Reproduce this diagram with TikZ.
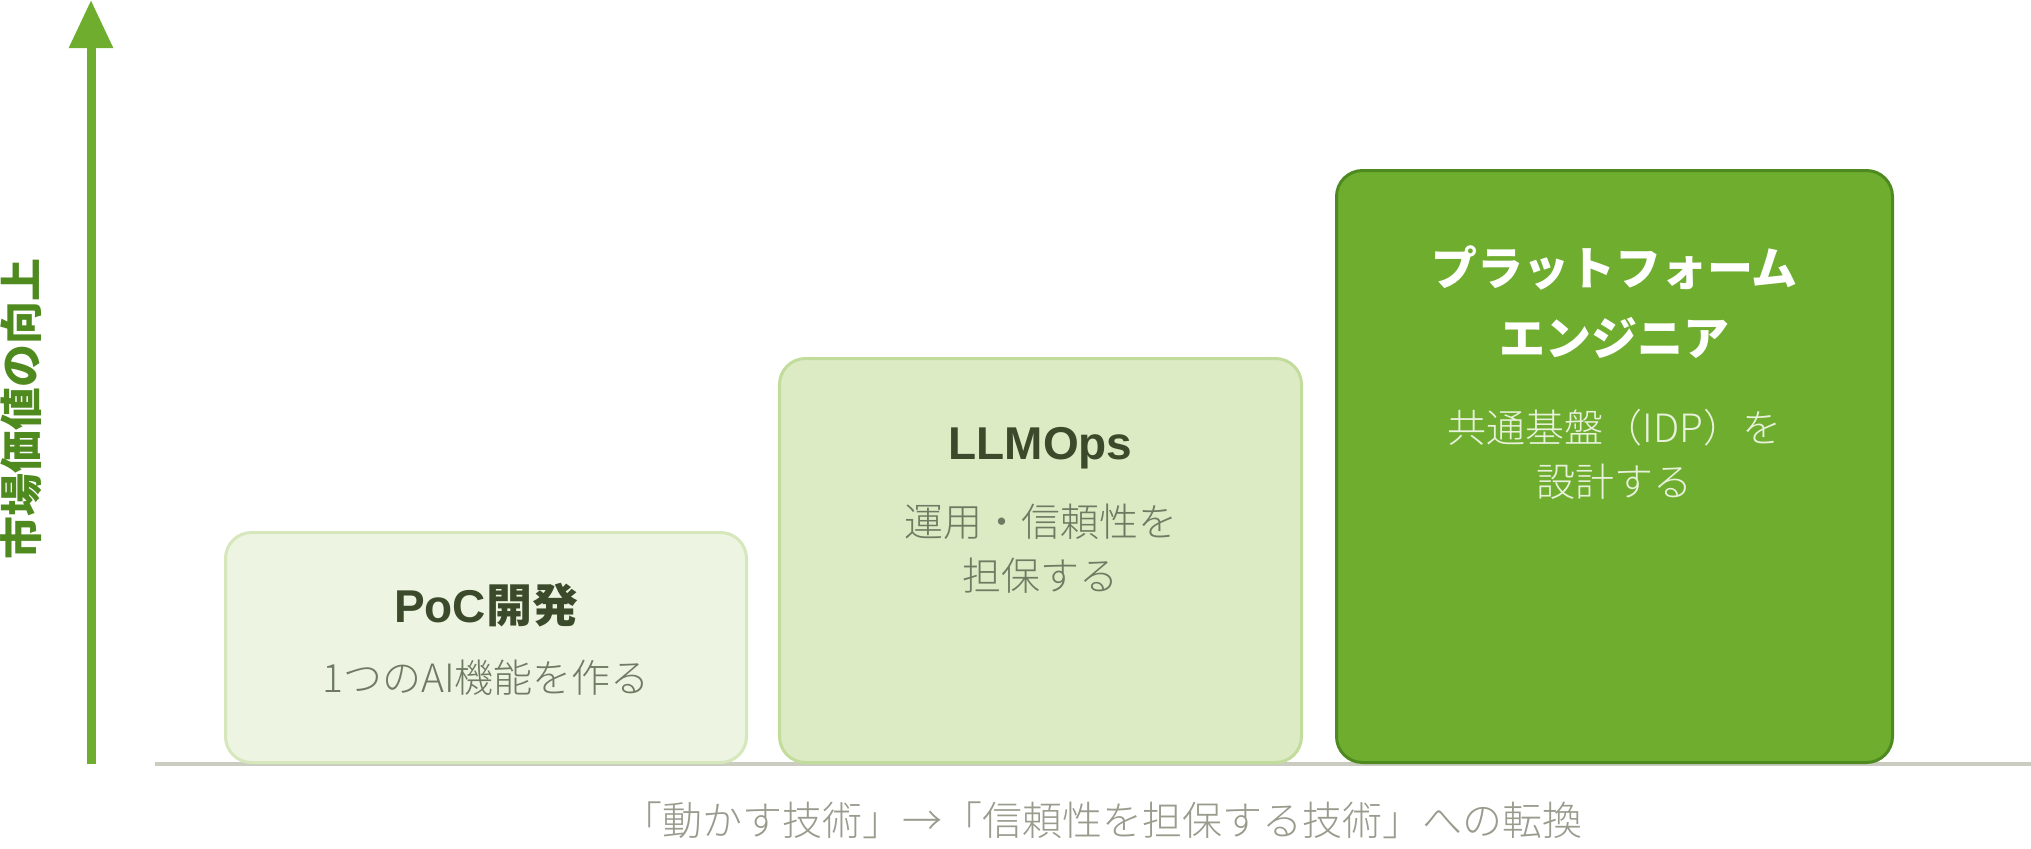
\documentclass[tikz,border=0pt]{standalone}
\usepackage{fontspec}
\setmainfont{Noto Sans CJK JP}
\newfontfamily\lightjp{Noto Sans CJK JP Light}
\newfontfamily\titlelatin{Liberation Sans}
\usepackage{xcolor}
\usepackage{tikz}
\usetikzlibrary{positioning,arrows.meta}

\definecolor{leafgreen}{HTML}{6FAD2F}
\definecolor{deepgreen}{HTML}{4E8A1E}
\definecolor{pocfill}{HTML}{EDF4E2}
\definecolor{pocedge}{HTML}{D5E7BB}
\definecolor{opsfill}{HTML}{DDEBC5}
\definecolor{opsedge}{HTML}{C2DC9C}
\definecolor{platedge}{HTML}{4F8A20}
\definecolor{titlegreen}{HTML}{3B4A2A}
\definecolor{subgrey}{HTML}{6F7A62}
\definecolor{platsub}{HTML}{E8F1DC}
\definecolor{baselinegrey}{HTML}{C9CCBF}
\definecolor{notegrey}{HTML}{999B8D}

\begin{document}
\begin{tikzpicture}[
				x=0.5pt, y=-0.5pt,
				stagebox/.style={rectangle, rounded corners=13pt, line width=1.5pt, anchor=south west, inner sep=0pt},
				pocbox/.style={stagebox, draw=pocedge, fill=pocfill, minimum width=260.5pt, minimum height=115pt},
				opsbox/.style={stagebox, draw=opsedge, fill=opsfill, minimum width=261pt, minimum height=202pt},
				platbox/.style={stagebox, draw=platedge, fill=leafgreen, minimum width=278pt, minimum height=296pt},
				titletext/.style={font=\bfseries\fontsize{23pt}{35pt}\selectfont, text=titlegreen, align=center, inner sep=0pt},
				subtext/.style={font=\lightjp\fontsize{19.5pt}{27pt}\selectfont, text=subgrey, align=center, inner sep=0pt},
				node distance = 10pt,
				]
				\useasboundingbox (0,0) rectangle (2031,848);
				
				%Axis and ground
				\coordinate (base west) at (155,764);
				\coordinate (base east) at (2031,764);
				\coordinate (axis foot) at (91,764);
				\coordinate (axis top) at (91,0);
				\draw[baselinegrey, line width=2pt] (base west) -- (base east);
				\draw[leafgreen, line width=4.5pt, -{Triangle[width=21pt,length=24pt]}] (axis foot) -- (axis top);
				\node[rotate=90, inner sep=0pt, text=deepgreen, font=\bfseries\fontsize{21.5pt}{21.5pt}\selectfont] (valuelabel) at (21,409) {市場価値の向上};
				
				%Stages
				\node[pocbox] (poc) at (224,764) {};
				\node[opsbox] (ops) at (778,764) {};
				\node[platbox] (plat) at (1335,764) {};
				
				%Texts
				\node[titletext] (poctitle) [below=26pt of poc.north] {{\titlelatin PoC}開発};
				\node[subtext] (pocsub) [below=16pt of poctitle] {1つのAI機能を作る};
				\node[titletext] (opstitle) [below=35pt of ops.north] {{\titlelatin LLMOps}};
				\node[subtext] (opssub) [below=17pt of opstitle] {運用・信頼性を\\担保する};
				\node[titletext, text=white] (plattitle) [below=38pt of plat.north] {プラットフォーム\\エンジニア};
				\node[subtext, text=platsub] (platsub) [below=25pt of plattitle] {共通基盤（IDP）を\\設計する};
				
				\node[font=\lightjp\fontsize{20pt}{20pt}\selectfont, text=notegrey, inner sep=0pt] (shiftnote) at (1102,820) {「動かす技術」→「信頼性を担保する技術」への転換};
				
\end{tikzpicture}
\end{document}
